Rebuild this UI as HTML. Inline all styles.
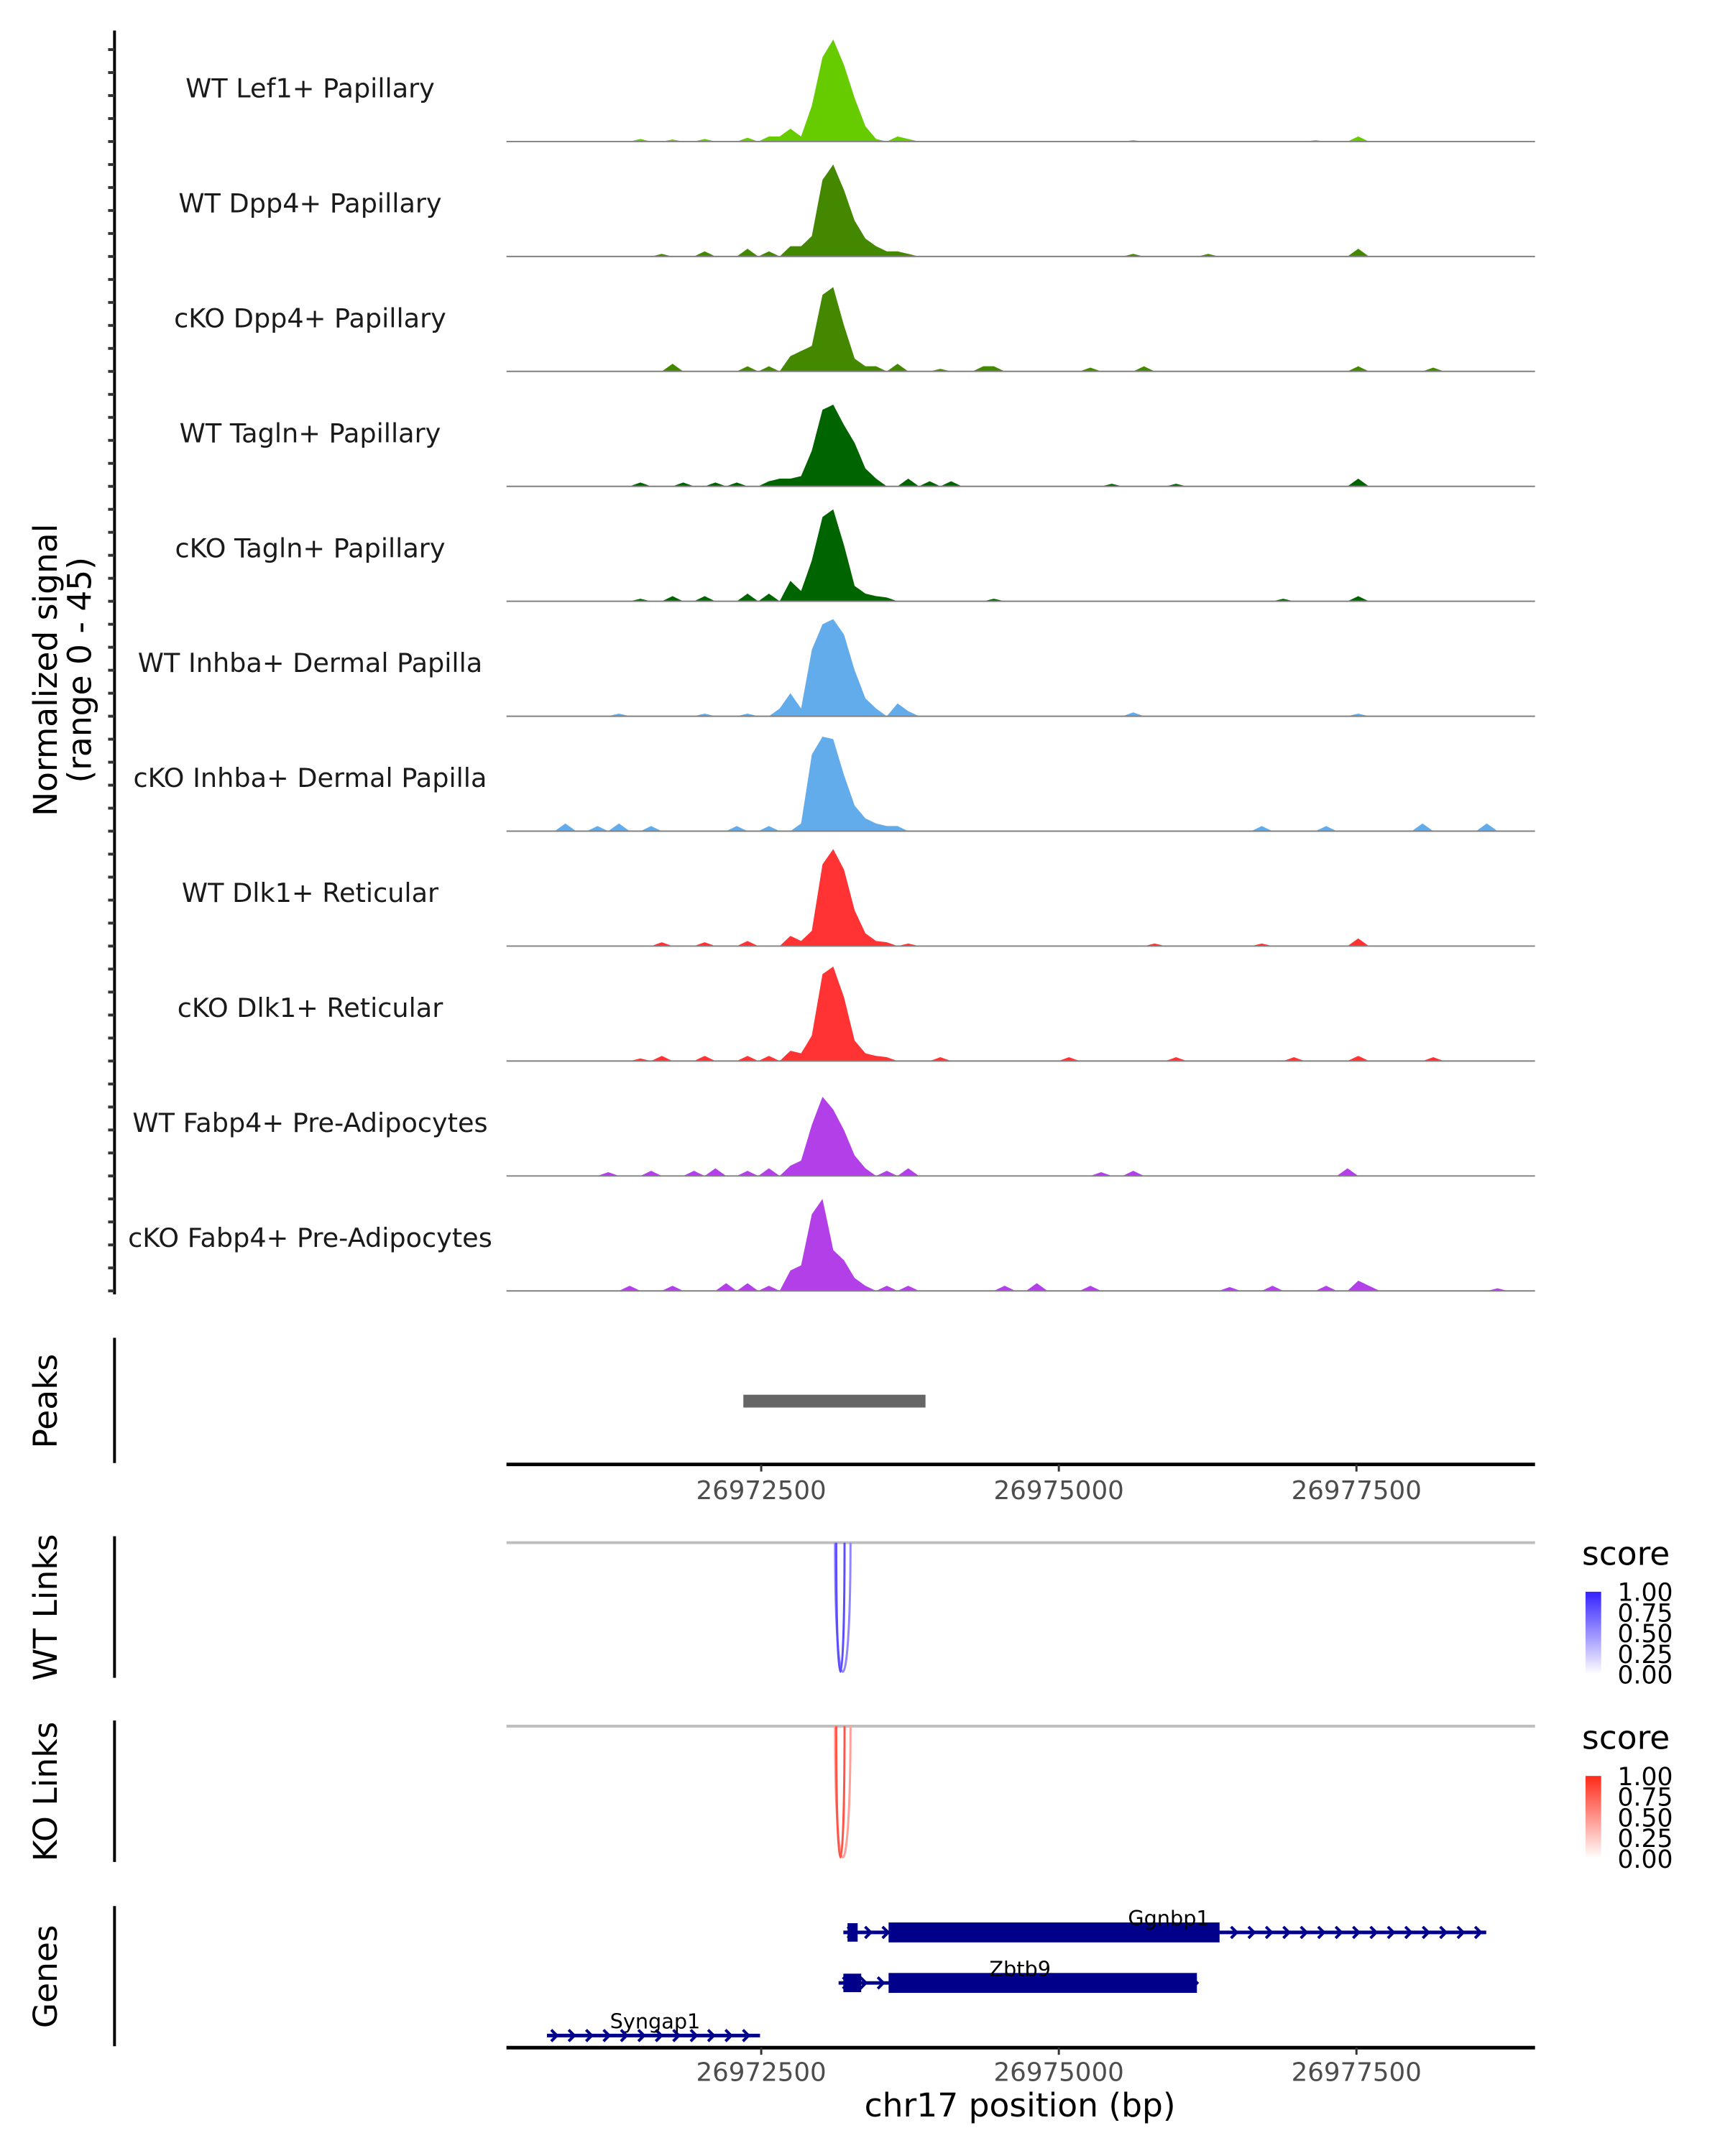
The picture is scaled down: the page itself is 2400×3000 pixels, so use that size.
<!DOCTYPE html>
<html><head><meta charset="utf-8"><style>
html,body{margin:0;padding:0;background:#fff}
svg{display:block;font-family:"DejaVu Sans","Liberation Sans",sans-serif}
</style></head><body>
<svg id="chart" width="2400" height="3000" viewBox="0 0 2400 3000" xmlns="http://www.w3.org/2000/svg">
<g transform="scale(0.98966)">
<g id="g-cov"></g>
<g id="g-axes"></g>
<g id="g-links"></g>
<g id="g-genes"></g>
</g>
</svg>
<script>
// ---- data ----
const domainStart = 26970360, domainEnd = 26979000, binCount = 96;
const trackNames = ["WT Lef1+ Papillary","WT Dpp4+ Papillary","cKO Dpp4+ Papillary","WT Tagln+ Papillary","cKO Tagln+ Papillary","WT Inhba+ Dermal Papilla","cKO Inhba+ Dermal Papilla","WT Dlk1+ Reticular","cKO Dlk1+ Reticular","WT Fabp4+ Pre-Adipocytes","cKO Fabp4+ Pre-Adipocytes"];
const trackColors = ["#66cc00","#448800","#448800","#006400","#006400","#63acec","#63acec","#ff3333","#ff3333","#b23fe8","#b23fe8"];
const wtLef1 = [[12,1],[15,0.8],[18,1],[22,1.5],[24,2],[25,2],[26,5],[27,2],[28,14],[29,33],[30,40],[31,30],[32,17],[33,6],[34,1],[36,2],[37,1],[58,0.5],[75,0.5],[79,2]];
const wtDpp4 = [[14,1],[18,2],[22,3],[24,2],[26,4],[27,4],[28,8],[29,30],[30,36],[31,26],[32,14],[33,7],[34,4],[35,2],[36,2],[37,1],[58,1],[65,1],[79,3]];
const koDpp4 = [[15,3],[22,2],[24,2],[26,6],[27,8],[28,10],[29,30],[30,33],[31,18],[32,5],[33,2],[34,2],[36,3],[40,1],[44,2],[45,2],[54,1.5],[59,2],[79,2],[86,1.5]];
const wtTagln = [[12,1.5],[16,1.5],[19,1.5],[21,1.5],[24,2],[25,3],[26,3],[27,4],[28,14],[29,30],[30,32],[31,24],[32,17],[33,7],[34,3],[37,3],[39,2],[41,2],[56,1],[62,1],[79,3]];
const koTagln = [[12,1],[15,2],[18,2],[22,3],[24,3],[26,8],[27,4],[28,16],[29,33],[30,36],[31,22],[32,6],[33,3],[34,2],[35,1.5],[45,1],[72,1],[79,2]];
const wtInhba = [[10,1],[18,1],[22,1],[25,3],[26,9],[27,3],[28,26],[29,36],[30,38],[31,32],[32,18],[33,7],[34,3],[36,5],[37,2],[58,1.5],[79,1]];
const koInhba = [[5,3],[8,2],[10,3],[13,2],[21,2],[24,2],[27,3],[28,30],[29,37],[30,36],[31,22],[32,10],[33,5],[34,3],[35,2],[36,2],[70,2],[76,2],[85,3],[91,3]];
const wtDlk1 = [[14,1.5],[18,1.5],[22,2],[26,4],[27,2],[28,6],[29,32],[30,38],[31,30],[32,14],[33,5],[34,2],[35,1.5],[37,1],[60,1],[70,1],[79,3]];
const koDlk1 = [[12,1],[14,2],[18,2],[22,2],[24,2],[26,4],[27,3],[28,10],[29,34],[30,37],[31,25],[32,8],[33,3],[34,2],[35,1.5],[40,1.5],[52,1.5],[62,1.5],[73,1.5],[79,2],[86,1.5]];
const wtFabp4 = [[9,1.5],[13,2],[17,2],[19,3],[22,2],[24,3],[26,4],[27,6],[28,20],[29,31],[30,26],[31,18],[32,8],[33,3],[35,2],[37,3],[55,1.5],[58,2],[78,3]];
const koFabp4 = [[11,2],[15,2],[20,3],[22,3],[24,2],[26,8],[27,10],[28,30],[29,36],[30,16],[31,12],[32,5],[33,2],[35,2],[37,2],[46,2],[49,3],[54,2],[67,1.5],[71,2],[76,2],[79,4],[80,2],[92,1]];
const trackData = [wtLef1,wtDpp4,koDpp4,wtTagln,koTagln,wtInhba,koInhba,wtDlk1,koDlk1,wtFabp4,koFabp4];
const yMax = 45;
const xTicks = [26972500,26975000,26977500];
const xTickLabels = ["26972500","26975000","26977500"];
const peakStarts = [26972350], peakEnds = [26973880];
const wtLinkStarts = [26973120,26973130], wtLinkEnds = [26973250,26973200], wtLinkScores = [0.55,0.8];
const koLinkStarts = [26973120,26973130], koLinkEnds = [26973250,26973200], koLinkScores = [0.45,0.8];
const geneNames = ["Ggnbp1","Zbtb9","Syngap1"];
const geneStarts = [26973190,26973150,26970700];
const geneEnds = [26978590,26976160,26972490];
const geneSmallStart = [26973225,26973190,null], geneSmallEnd = [26973310,26973340,null];
const geneThickStart = [26973570,26973570,null], geneThickEnd = [26976350,26976160,null];

// ---- layout ----
const NS="http://www.w3.org/2000/svg";
const X0=712, X1=2158;
const xs = v => X0 + (v-domainStart)/(domainEnd-domainStart)*(X1-X0);
const trackH = 161.6, firstBase = 199;
function mk(tag, attrs, parent, text){
  const e=document.createElementNS(NS,tag);
  for(const k in attrs) e.setAttribute(k,attrs[k]);
  if(text!==undefined) e.textContent=text;
  parent.appendChild(e); return e;
}
const gc=document.getElementById('g-cov');
const binW=(domainEnd-domainStart)/binCount;
trackData.forEach((sp,i)=>{
  const base=firstBase+i*trackH;
  const ys = v => base - v/yMax*trackH;
  const vals=new Array(binCount).fill(0);
  sp.forEach(p=>{vals[p[0]]=p[1];});
  let d=`M${X0},${base}`;
  vals.forEach((v,b)=>{
    const xa=xs(domainStart+b*binW), xb=xs(domainStart+(b+1)*binW), xm=(xa+xb)/2;
    const pv=b>0?vals[b-1]:0;
    d+=` L${xa.toFixed(1)},${ys((pv+v)/2).toFixed(1)} L${xm.toFixed(1)},${ys(v).toFixed(1)}`;
  });
  d+=` L${X1},${base} Z`;
  const a=mk('path',{d:d,fill:trackColors[i]},gc);
  
  
  const bl=mk('line',{x1:X0,x2:X1,y1:base,y2:base,stroke:'#808080','stroke-width':2},gc);
  
  
  const t=mk('text',{x:436,y:base-62,'text-anchor':'middle','font-size':37,fill:'#1a1a1a'},gc,trackNames[i]);
  
  
});

const ga=document.getElementById('g-axes');
let ax=mk('line',{x1:161,x2:161,y1:43,y2:1820,stroke:'#000','stroke-width':4},ga);


for(let i=0;i<11;i++){for(let k=0;k<5;k++){
  const y=firstBase+i*trackH-k*trackH/5;
  const tk=mk('line',{x1:152,x2:161,y1:y,y2:y,stroke:'#333','stroke-width':4},ga);
  
  
}}
function rotLabel(txt,x,y,name){
  const t=mk('text',{x:0,y:0,transform:`translate(${x},${y}) rotate(-90)`,'text-anchor':'middle','font-size':46,fill:'#000'},ga,txt);
  
  
}
rotLabel('Normalized signal',80,942,'y-axis-title');
rotLabel('(range 0 - 45)',128,942,'y-axis-range');
rotLabel('Peaks',80,1970,'peaks-label');
rotLabel('WT Links',80,2260,'wt-links-label');
rotLabel('KO Links',80,2519,'ko-links-label');
rotLabel('Genes',80,2779,'genes-label');
[[1881,2057],[2160,2359],[2419,2618],[2680,2877]].forEach((r,i)=>{
  const l=mk('line',{x1:161,x2:161,y1:r[0],y2:r[1],stroke:'#000','stroke-width':4},ga);
  
  
});
peakStarts.forEach((s,i)=>{
  const r=mk('rect',{x:xs(s),y:1961,width:xs(peakEnds[i])-xs(s),height:18,fill:'#666'},ga);
  
  
});
function xAxis(y,labY,name){
  const l=mk('line',{x1:X0,x2:X1,y1:y,y2:y,stroke:'#000','stroke-width':5},ga);
  
  
  xTicks.forEach((v,i)=>{
    const tk=mk('line',{x1:xs(v),x2:xs(v),y1:y,y2:y+10,stroke:'#333','stroke-width':3},ga);
    
    
    const tl=mk('text',{x:xs(v),y:labY,'text-anchor':'middle','font-size':36,fill:'#4d4d4d'},ga,xTickLabels[i]);
    
    
  });
}
xAxis(2059,2108,'peaks-x-axis');
xAxis(2879,2926,'genes-x-axis');
const xt=mk('text',{x:1434,y:2976,'text-anchor':'middle','font-size':46,fill:'#000'},ga,'chr17 position (bp)');



const gl=document.getElementById('g-links');
const defs=mk('defs',{},gl);
function mix(hex,t){
  const r=parseInt(hex.slice(1,3),16),g=parseInt(hex.slice(3,5),16),b=parseInt(hex.slice(5,7),16);
  const f=v=>Math.round(255+(v-255)*t);
  return `rgb(${f(r)},${f(g)},${f(b)})`;
}
function linkPanel(starts,ends,scores,top,bottom,col,legY,id){
  const gl0=mk('line',{x1:X0,x2:X1,y1:top,y2:top,stroke:'#bebebe','stroke-width':4},gl);
  
  
  starts.forEach((s,i)=>{
    const x1=xs(s), x2=xs(ends[i]), depth=(bottom-top);
    const c=mk('path',{d:`M${x1},${top} C${x1},${top+depth*1.33} ${x2},${top+depth*1.33} ${x2},${top}`,fill:'none',stroke:mix(col,scores[i]),'stroke-width':3},gl);
    
    
  });
  const g=mk('linearGradient',{id:id+'grad',x1:0,y1:1,x2:0,y2:0},defs);
  mk('stop',{offset:0,'stop-color':'#ffffff'},g);
  mk('stop',{offset:1,'stop-color':col},g);
  const st=mk('text',{x:2224,y:legY,'font-size':46,fill:'#000'},gl,'score');
  
  
  const cb=mk('rect',{x:2229,y:legY+38,width:22,height:116,fill:`url(#${id}grad)`},gl);
  
  
  ["1.00","0.75","0.50","0.25","0.00"].forEach((lab,k)=>{
    const y=legY+38+k*29;
    const tl=mk('text',{x:2274,y:y+13,'font-size':35,fill:'#000'},gl,lab);
    
    
  });
}
linkPanel(wtLinkStarts,wtLinkEnds,wtLinkScores,2169,2351,'#3322ff',2200,'wt-links');
linkPanel(koLinkStarts,koLinkEnds,koLinkScores,2427,2612,'#ff2a1a',2459,'ko-links');

const gg=document.getElementById('g-genes');
const geneY=[2717,2788,2862];
const navy='#00008b';
geneNames.forEach((n,i)=>{
  const y=geneY[i], xa=xs(geneStarts[i]), xb=xs(geneEnds[i]);
  const ln=mk('line',{x1:xa,x2:xb,y1:y,y2:y,stroke:navy,'stroke-width':5},gg);
  
  
  for(let x=xa+6;x<xb;x+=24.5){
    const ar=mk('path',{d:`M${x},${y-8} L${x+8},${y} L${x},${y+8}`,fill:'none',stroke:navy,'stroke-width':4},gg);
    
    
  }
  if(geneSmallStart[i]!==null){
    const s=mk('rect',{x:xs(geneSmallStart[i]),y:y-13,width:xs(geneSmallEnd[i])-xs(geneSmallStart[i]),height:26,fill:navy},gg);
    
    
  }
  if(geneThickStart[i]!==null){
    const t=mk('rect',{x:xs(geneThickStart[i]),y:y-14,width:xs(geneThickEnd[i])-xs(geneThickStart[i]),height:28,fill:navy},gg);
    
    
  }
});
const labX=[1643,1434,921];
geneNames.forEach((n,i)=>{
  const t=mk('text',{x:labX[i],y:geneY[i]-10,'text-anchor':'middle','font-size':29,fill:'#000'},gg,n);
  
  
});
</script>
</body></html>
